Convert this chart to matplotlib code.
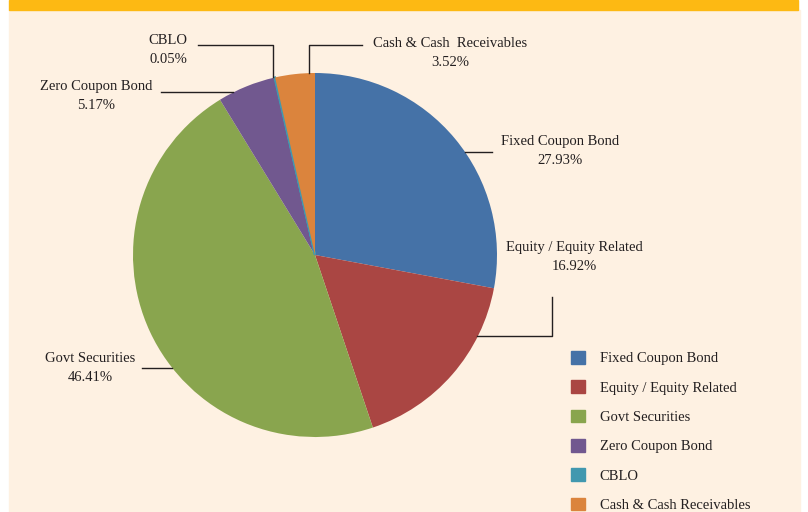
import matplotlib.pyplot as plt
from matplotlib.patches import Rectangle

# asset allocation of the portfolio (% of net assets)
labels = ["Fixed Coupon Bond", "Equity / Equity Related", "Govt Securities",
          "Zero Coupon Bond", "CBLO", "Cash & Cash Receivables"]
callout_names = ["Fixed Coupon Bond", "Equity / Equity Related", "Govt Securities",
                 "Zero Coupon Bond", "CBLO", "Cash & Cash  Receivables"]
values = [27.93, 16.92, 46.41, 5.17, 0.05, 3.52]
colors = ["#4572A7", "#AA4643", "#89A54E", "#71588F", "#4198AF", "#DB843D"]

W, H = 808, 512
plt.rcParams["font.family"] = ["Liberation Serif", "DejaVu Serif"]

fig = plt.figure(figsize=(W / 100, H / 100), dpi=100)
ax = fig.add_axes([0, 0, 1, 1])


def py(y):
    # pixel row (from top) -> data y
    return H - y


# panel background + orange band on top
ax.add_patch(Rectangle((9, 0), 791, py(10), color="#FEF1E2", zorder=0))
ax.add_patch(Rectangle((9, py(10)), 789, 10, color="#FDB913", zorder=0))

wedges, _ = ax.pie(values, colors=colors, startangle=90, counterclock=False,
                   center=(315, py(255)), radius=182, frame=True,
                   wedgeprops=dict(linewidth=0))
# CBLO is too thin to see otherwise
wedges[4].set_edgecolor(colors[4])
wedges[4].set_linewidth(1.5)
ax.set_xlim(0, W)
ax.set_ylim(0, H)
ax.set_aspect("equal")
ax.axis("off")

# callouts: text centre and leader line points (pixels from top)
text_pos = [(560, 151), (574, 257), (90, 368), (96, 96), (168, 50), (450, 53)]
leaders = [
    [(465, 152), (492, 152)],
    [(552, 297), (552, 336), (477, 336)],
    [(142, 368), (172, 368)],
    [(161, 92), (233, 92)],
    [(198, 45), (273, 45), (273, 77)],
    [(362, 45), (309, 45), (309, 73)],
]
for name, v, (tx, ty), pts in zip(callout_names, values, text_pos, leaders):
    ax.text(tx, py(ty), f"{name}\n{v:.2f}%", ha="center", va="center",
            fontsize=10.5, color="#231F20", linespacing=1.55)
    xs = [p[0] for p in pts]
    ys = [py(p[1]) for p in pts]
    ax.plot(xs, ys, color="#231F20", lw=1)

handles = [Rectangle((0, 0), 1, 1, color=c) for c in colors]
leg = ax.legend(handles, labels, loc="upper left", bbox_to_anchor=(558 / W, py(338) / H),
                frameon=False, fontsize=10.5, handlelength=0.95, handleheight=0.95,
                handletextpad=1.0, labelspacing=1.03, labelcolor="#231F20")

fig.savefig("out.png", dpi=100, facecolor="white")
